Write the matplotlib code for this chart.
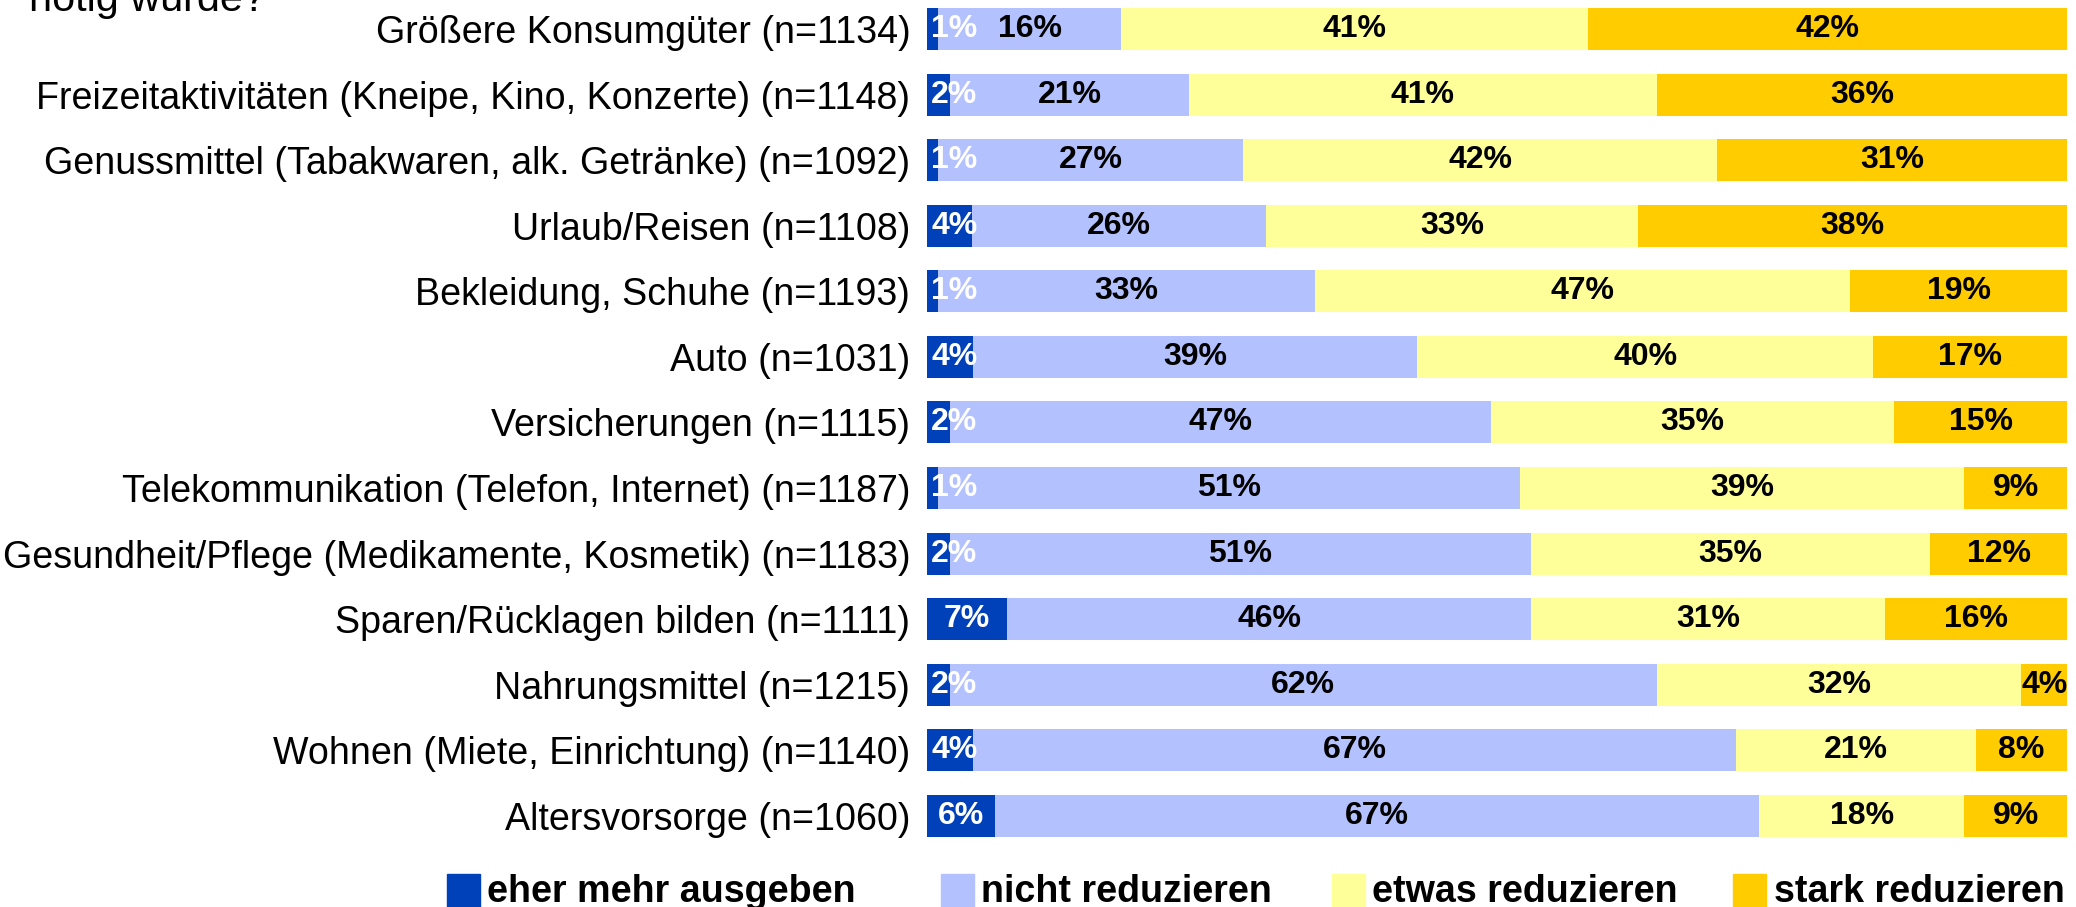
import matplotlib
matplotlib.use("Agg")
import matplotlib.pyplot as plt
from matplotlib.patches import Rectangle

# ---------------- data ----------------
categories = [
    "Größere Konsumgüter (n=1134)",
    "Freizeitaktivitäten (Kneipe, Kino, Konzerte) (n=1148)",
    "Genussmittel (Tabakwaren, alk. Getränke) (n=1092)",
    "Urlaub/Reisen (n=1108)",
    "Bekleidung, Schuhe (n=1193)",
    "Auto (n=1031)",
    "Versicherungen (n=1115)",
    "Telekommunikation (Telefon, Internet) (n=1187)",
    "Gesundheit/Pflege (Medikamente, Kosmetik) (n=1183)",
    "Sparen/Rücklagen bilden (n=1111)",
    "Nahrungsmittel (n=1215)",
    "Wohnen (Miete, Einrichtung) (n=1140)",
    "Altersvorsorge (n=1060)",
]
eher_mehr = [1, 2, 1, 4, 1, 4, 2, 1, 2, 7, 2, 4, 6]
nicht_red = [16, 21, 27, 26, 33, 39, 47, 51, 51, 46, 62, 67, 67]
etwas_red = [41, 41, 42, 33, 47, 40, 35, 39, 35, 31, 32, 21, 18]
stark_red = [42, 36, 31, 38, 19, 17, 15, 9, 12, 16, 4, 8, 9]
series_names = ["eher mehr ausgeben", "nicht reduzieren", "etwas reduzieren", "stark reduzieren"]
series_colors = ["#0040B8", "#B3C1FF", "#FFFF99", "#FFCC00"]
label_colors = ["white", "black", "black", "black"]
title_text = "nötig würde?"

# ---------------- figure ----------------
W, H = 2076, 907
plt.rcParams["font.family"] = ["Liberation Sans", "DejaVu Sans"]
fig = plt.figure(figsize=(W / 100, H / 100), dpi=100)

ax = fig.add_axes([927 / W, 1 - 850 / H, (2067 - 927) / W, 850 / H])
ax.set_xlim(0, 100)
ax.set_ylim(12.519, -0.442)

series = [eher_mehr, nicht_red, etwas_red, stark_red]
n = len(categories)
ypos = list(range(n))
left = [0.0] * n
for s_idx, vals in enumerate(series):
    widths = []
    for i in range(n):
        tot = eher_mehr[i] + nicht_red[i] + etwas_red[i] + stark_red[i]
        widths.append(vals[i] / tot * 100.0)
    ax.barh(ypos, widths, left=left, height=0.64, color=series_colors[s_idx],
            edgecolor="none")
    for i in range(n):
        mid = left[i] + widths[i] / 2
        if s_idx == 0:
            mid = max(mid, 2.4)
        ax.text(mid, ypos[i], f"{vals[i]}%", ha="center", va="center",
                fontsize=23, fontweight="bold", color=label_colors[s_idx])
    left = [left[i] + widths[i] for i in range(n)]

ax.set_yticks(ypos)
ax.set_yticklabels(categories, fontsize=27.1)
ax.tick_params(axis="y", length=0, pad=12)
ax.set_xticks([])
for sp in ax.spines.values():
    sp.set_visible(False)

# title remnant (cropped at top)
fig.text(29 / W, 1 - 11 / H, title_text, fontsize=29.8, ha="left", va="baseline")

# legend
sq_x = [447, 941, 1332, 1733]
tx_x = [487, 981, 1372, 1774]
for i, name in enumerate(series_names):
    fig.patches.append(Rectangle((sq_x[i] / W, 1 - 912 / H), 33 / W, 38 / H,
                                 transform=fig.transFigure,
                                 color=series_colors[i], zorder=3))
    fig.text(tx_x[i] / W, 1 - 902 / H, name, fontsize=27.1, fontweight="bold",
             ha="left", va="baseline")

fig.savefig("out.png", dpi=100)
